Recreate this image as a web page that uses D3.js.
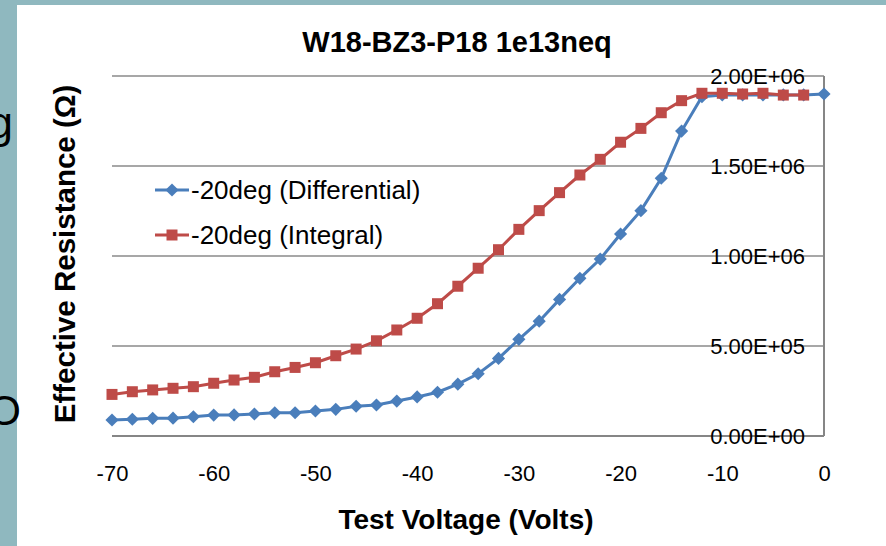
<!DOCTYPE html>
<html>
<head>
<meta charset="utf-8">
<script src="https://cdn.jsdelivr.net/npm/d3@7"></script>
<style>
  html, body { margin: 0; padding: 0; background: #8fb8bf; }
  svg { display: block; font-family: "Liberation Sans", Arial, sans-serif; }
</style>
</head>
<body>
<svg id="chart" width="886" height="546"></svg>
<script>
// test voltage (V)
const voltsDiff = [-70, -68, -66, -64, -62, -60, -58, -56, -54, -52, -50, -48, -46, -44, -42, -40, -38, -36,
  -34, -32, -30, -28, -26, -24, -22, -20, -18, -16, -14, -12, -10, -8, -6, -4, -2, 0];
const voltsInt = voltsDiff.slice(0, 35);

// effective resistance (ohm)
const diffValues = [0.89e5, 0.93e5, 0.98e5, 0.99e5, 1.07e5, 1.16e5, 1.17e5, 1.22e5, 1.29e5, 1.29e5, 1.39e5, 1.48e5,
  1.65e5, 1.72e5, 1.94e5, 2.17e5, 2.43e5, 2.88e5, 3.46e5, 4.31e5, 5.37e5, 6.38e5, 7.59e5, 8.76e5,
  9.83e5, 1.122e6, 1.252e6, 1.432e6, 1.694e6, 1.885e6, 1.895e6, 1.895e6, 1.895e6, 1.895e6, 1.895e6, 1.9e6];
const intValues = [2.31e5, 2.46e5, 2.56e5, 2.65e5, 2.74e5, 2.93e5, 3.11e5, 3.26e5, 3.57e5, 3.81e5, 4.07e5, 4.46e5,
  4.83e5, 5.29e5, 5.89e5, 6.54e5, 7.35e5, 8.32e5, 9.32e5, 1.035e6, 1.148e6, 1.252e6, 1.352e6, 1.45e6,
  1.537e6, 1.632e6, 1.709e6, 1.796e6, 1.863e6, 1.904e6, 1.904e6, 1.9e6, 1.904e6, 1.894e6, 1.894e6];

const xTicks = [-70, -60, -50, -40, -30, -20, -10, 0];
const yTicks = [0, 5e5, 1e6, 1.5e6, 2e6];
const yTickLabels = ["0.00E+00", "5.00E+05", "1.00E+06", "1.50E+06", "2.00E+06"];

const seriesNames = ["-20deg (Differential)", "-20deg (Integral)"];
const BLUE = "#4a7ebb";
const RED = "#be4b48";

const svg = d3.select("#chart");

// white chart panel over the slide background
svg.append("rect")
  .attr("x", 17).attr("y", 5)
  .attr("width", 869).attr("height", 541)
  .attr("fill", "#fff");

var x = d3.scaleLinear().domain([-70, 0]).range([112, 824]);
var y = d3.scaleLinear().domain([0, 2e6]).range([436, 76]);

// gridlines
svg.append("g")
  .selectAll("line")
  .data(yTicks.slice(1))
  .join("line")
  .attr("x1", x(-70)).attr("x2", x(0))
  .attr("y1", d => y(d)).attr("y2", d => y(d))
  .attr("stroke", "#8a8a8a")
  .attr("stroke-width", 1.5);

// category axis line (at zero) and value axis line (at the right)
svg.append("line")
  .attr("x1", x(-70)).attr("x2", x(0))
  .attr("y1", y(0)).attr("y2", y(0))
  .attr("stroke", "#868686").attr("stroke-width", 2);
svg.append("line")
  .attr("x1", x(0)).attr("x2", x(0))
  .attr("y1", y(0)).attr("y2", y(2e6))
  .attr("stroke", "#868686").attr("stroke-width", 2);

// x axis labels
var xAxis = svg.append("g")
  .attr("transform", `translate(0,${y(0)})`)
  .call(d3.axisBottom(x).tickValues(xTicks).tickSize(0).tickPadding(29).tickFormat(d => String(d)));
xAxis.select(".domain").remove();
xAxis.selectAll("text")
  .attr("fill", "#000")
  .style("font-size", "22px")
  .style("font-family", "'Liberation Sans', Arial, sans-serif");

// y axis labels (drawn left of the right-hand axis line)
var yAxis = svg.append("g")
  .attr("transform", `translate(${x(0)},0)`)
  .call(d3.axisLeft(y).tickValues(yTicks).tickSize(0).tickPadding(19)
    .tickFormat((d, i) => yTickLabels[i]));
yAxis.select(".domain").remove();
yAxis.selectAll("text")
  .attr("fill", "#000")
  .style("font-size", "22px")
  .style("font-family", "'Liberation Sans', Arial, sans-serif");

// series
var line = d3.line().x(d => x(d[0])).y(d => y(d[1]));
var diffPts = d3.zip(voltsDiff, diffValues);
var intPts = d3.zip(voltsInt, intValues);
var diamond = d3.symbol(d3.symbolDiamond2, 110);
var square = d3.symbol(d3.symbolSquare, 121);

svg.append("path")
  .datum(diffPts)
  .attr("d", line)
  .attr("fill", "none")
  .attr("stroke", BLUE)
  .attr("stroke-width", 3);
svg.append("g")
  .selectAll("path")
  .data(diffPts)
  .join("path")
  .attr("transform", d => `translate(${x(d[0])},${y(d[1])})`)
  .attr("d", diamond)
  .attr("fill", BLUE);

svg.append("path")
  .datum(intPts)
  .attr("d", line)
  .attr("fill", "none")
  .attr("stroke", RED)
  .attr("stroke-width", 3);
svg.append("g")
  .selectAll("path")
  .data(intPts)
  .join("path")
  .attr("transform", d => `translate(${x(d[0])},${y(d[1])})`)
  .attr("d", square)
  .attr("fill", RED);

// legend
var legend = svg.append("g");
var legendRows = [
  { name: seriesNames[0], color: BLUE, symbol: diamond, y: 190 },
  { name: seriesNames[1], color: RED, symbol: square, y: 235 }
];
legendRows.forEach(r => {
  legend.append("line")
    .attr("x1", 155).attr("x2", 189)
    .attr("y1", r.y).attr("y2", r.y)
    .attr("stroke", r.color).attr("stroke-width", 3);
  legend.append("path")
    .attr("transform", `translate(172,${r.y})`)
    .attr("d", r.symbol)
    .attr("fill", r.color);
  legend.append("text")
    .attr("x", 191).attr("y", r.y)
    .attr("dominant-baseline", "central")
    .style("font-size", "26px")
    .text(r.name);
});

// titles
svg.append("text")
  .attr("x", 457).attr("y", 42)
  .attr("text-anchor", "middle")
  .attr("dominant-baseline", "central")
  .style("font-size", "29px")
  .style("font-weight", "bold")
  .text("W18-BZ3-P18 1e13neq");

svg.append("text")
  .attr("x", 466).attr("y", 519)
  .attr("text-anchor", "middle")
  .attr("dominant-baseline", "central")
  .style("font-size", "28px")
  .style("font-weight", "bold")
  .text("Test Voltage (Volts)");

svg.append("text")
  .attr("transform", "translate(64,254) rotate(-90)")
  .attr("text-anchor", "middle")
  .attr("dominant-baseline", "central")
  .style("font-size", "29.5px")
  .style("font-weight", "bold")
  .text("Effective Resistance (Ω)");

// slide text cut off at the left edge, as in the reference
svg.append("text")
  .attr("x", 13).attr("y", 138)
  .attr("text-anchor", "end")
  .style("font-size", "44px")
  .text("g");
svg.append("text")
  .attr("x", 21).attr("y", 425)
  .attr("text-anchor", "end")
  .style("font-size", "42px")
  .text("O");
</script>
</body>
</html>
